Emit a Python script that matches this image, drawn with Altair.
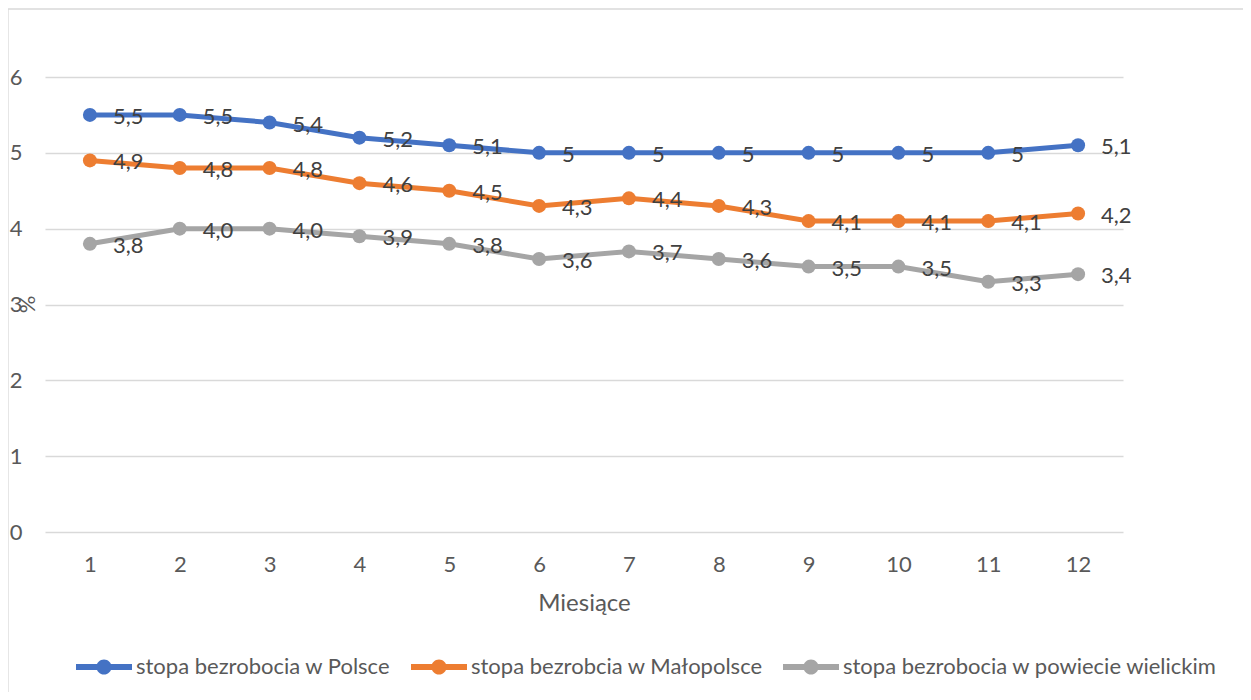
import altair as alt
import pandas as pd

months = [str(i) for i in range(1, 13)]
series_names = [
    "stopa bezrobocia w Polsce",
    "stopa bezrobcia w Małopolsce",
    "stopa bezrobocia w powiecie wielickim",
]
polska = [5.5, 5.5, 5.4, 5.2, 5.1, 5.0, 5.0, 5.0, 5.0, 5.0, 5.0, 5.1]
polska_lbl = ["5,5", "5,5", "5,4", "5,2", "5,1", "5", "5", "5", "5", "5", "5", "5,1"]
malopolska = [4.9, 4.8, 4.8, 4.6, 4.5, 4.3, 4.4, 4.3, 4.1, 4.1, 4.1, 4.2]
malopolska_lbl = ["4,9", "4,8", "4,8", "4,6", "4,5", "4,3", "4,4", "4,3", "4,1", "4,1", "4,1", "4,2"]
wielicki = [3.8, 4.0, 4.0, 3.9, 3.8, 3.6, 3.7, 3.6, 3.5, 3.5, 3.3, 3.4]
wielicki_lbl = ["3,8", "4,0", "4,0", "3,9", "3,8", "3,6", "3,7", "3,6", "3,5", "3,5", "3,3", "3,4"]
colors = ["#4472C4", "#ED7D31", "#A5A5A5"]

rows = []
for name, vals, lbls in zip(series_names, [polska, malopolska, wielicki],
                            [polska_lbl, malopolska_lbl, wielicki_lbl]):
    for m, v, l in zip(months, vals, lbls):
        rows.append({"month": m, "value": v, "label": l, "series": name})
df = pd.DataFrame(rows)

FONT = "Lato"
FS = 22

x = alt.X("month:O", sort=months, title="Miesiące",
          axis=alt.Axis(labelAngle=0, ticks=False, domain=False, labelPadding=22,
                        labelFontSize=FS, labelColor="#595959", labelFont=FONT,
                        titleFontSize=FS + 2, titleColor="#595959", titleFont=FONT,
                        titleFontWeight="normal", titleY=71, titleBaseline="middle"))
y = alt.Y("value:Q", scale=alt.Scale(domain=[0, 6], nice=False, zero=True), title="%",
          axis=alt.Axis(values=[0, 1, 2, 3, 4, 5, 6], ticks=False, domain=False,
                        labelPadding=23, labelFontSize=FS, labelColor="#595959",
                        labelFont=FONT, gridColor="#D9D9D9", gridWidth=1.3,
                        titleFontSize=FS, titleColor="#595959", titleFont=FONT,
                        titleFontWeight="normal", titleX=-18, titleY=227,
                        titleAngle=270, titleAlign="center", titleBaseline="middle"))

legend_path = ("M-1,-0.107L1,-0.107L1,0.107L-1,0.107Z "
               "M-0.27,0A0.27,0.27 0 1,1 0.27,0A0.27,0.27 0 1,1 -0.27,0Z")

color_scale = alt.Scale(domain=series_names, range=colors)

base = alt.Chart(df)

points = base.mark_circle(size=196, opacity=1).encode(
    x=x, y=y,
    color=alt.Color("series:N", scale=color_scale, title=None,
                    legend=alt.Legend(orient="none", direction="horizontal",
                                      legendX=31, legendY=562,
                                      symbolType=legend_path, symbolSize=3136,
                                      symbolStrokeWidth=0, labelFont=FONT, labelFontSize=FS,
                                      labelColor="#595959", labelOffset=4, columnPadding=20,
                                      labelLimit=0, padding=0)),
)

lines = base.mark_line(strokeWidth=5).encode(
    x=x, y=y,
    color=alt.Color("series:N", scale=color_scale, title=None),
)

texts = base.mark_text(align="left", baseline="middle", dx=23, dy=2,
                       fontSize=FS, font=FONT, color="#404040").encode(
    x=x, y=y, text="label:N",
)

border = alt.Chart(pd.DataFrame({"a": [0]})).mark_rect(
    fillOpacity=0, stroke="#D9D9D9", strokeWidth=1.3
).encode(x=alt.value(-37), x2=alt.value(1300), y=alt.value(-68), y2=alt.value(800))

chart = alt.layer(border, points, lines, texts).properties(
    width=1078, height=455,
    autosize=alt.AutoSizeParams(type="none"),
    padding={"left": 37, "top": 69, "right": 120, "bottom": 160},
).configure(font=FONT).configure_view(stroke=None)

chart.save("out.html", embed_options={"renderer": "svg", "actions": False})
